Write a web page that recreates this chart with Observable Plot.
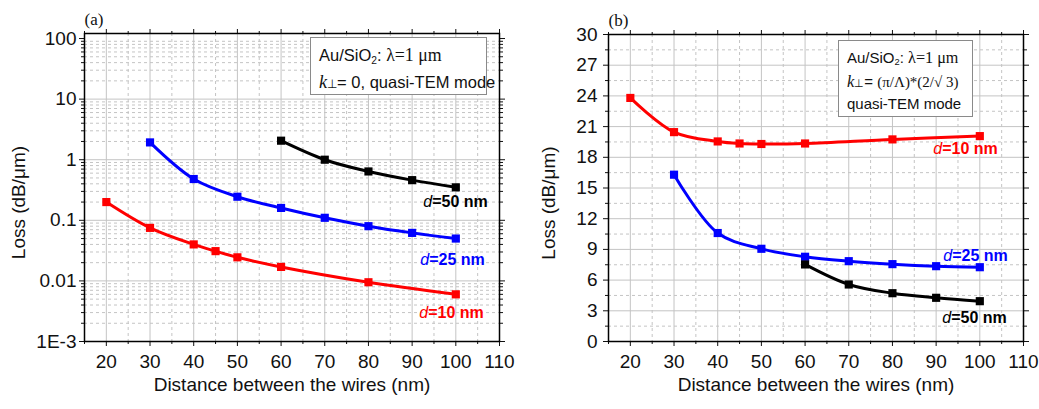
<!DOCTYPE html>
<html><head><meta charset="utf-8">
<script src="https://cdn.jsdelivr.net/npm/d3@7"></script>
<script src="https://cdn.jsdelivr.net/npm/@observablehq/plot@0.6"></script>
<style>
body{margin:0;background:#fff;}
#wrap{position:relative;width:1039px;height:409px;display:flex;font-family:"Liberation Sans",Arial,sans-serif;color:#111;}
#wrap svg{display:block;overflow:visible;}
.legend{position:absolute;background:#fff;border:1px solid #8a8a8a;box-sizing:border-box;white-space:nowrap;}
.serif{font-family:"Liberation Serif","Times New Roman",serif;}
</style></head><body><div id="wrap"><div id="pa"></div><div id="pb"></div></div>
<script>
// ---- data: panel (a), log scale ----
const distA10 = [20, 30, 40, 45, 50, 60, 80, 100];
const lossA10 = [0.2, 0.075, 0.04, 0.031, 0.0245, 0.017, 0.0095, 0.006];
const distA25 = [30, 40, 50, 60, 70, 80, 90, 100];
const lossA25 = [1.93, 0.48, 0.245, 0.16, 0.11, 0.08, 0.062, 0.05];
const distA50 = [60, 70, 80, 90, 100];
const lossA50 = [2.06, 1.0, 0.64, 0.46, 0.35];
// ---- data: panel (b), linear scale ----
const distB10 = [20, 30, 40, 45, 50, 60, 80, 100];
const lossB10 = [23.8, 20.46, 19.55, 19.35, 19.3, 19.35, 19.75, 20.07];
const distB25 = [30, 40, 50, 60, 70, 80, 90, 100];
const lossB25 = [16.3, 10.6, 9.06, 8.28, 7.85, 7.56, 7.36, 7.26];
const distB50 = [60, 70, 80, 90, 100];
const lossB50 = [7.53, 5.57, 4.72, 4.27, 3.94];
// ---- ticks ----
const xMajor = [20, 30, 40, 50, 60, 70, 80, 90, 100, 110];
const xMinor = [15, 25, 35, 45, 55, 65, 75, 85, 95, 105];
const yMajorA = [0.001, 0.01, 0.1, 1, 10, 100];
const yLabelsA = ["1E-3", "0.01", "0.1", "1", "10", "100"];
const yMinorA = [0.002,0.003,0.004,0.005,0.006,0.007,0.008,0.009,
  0.02,0.03,0.04,0.05,0.06,0.07,0.08,0.09,
  0.2,0.3,0.4,0.5,0.6,0.7,0.8,0.9,
  2,3,4,5,6,7,8,9,20,30,40,50,60,70,80,90];
const yMajorB = [0, 3, 6, 9, 12, 15, 18, 21, 24, 27, 30];
const yMinorB = [1.5, 4.5, 7.5, 10.5, 13.5, 16.5, 19.5, 22.5, 25.5, 28.5];
const seriesNames = ["d=10 nm", "d=25 nm", "d=50 nm"];
const seriesColors = ["#ff0000", "#0000ff", "#000000"];
const xTitle = "Distance between the wires (nm)";
const yTitle = "Loss (dB/\u03bcm)";

const rows = (xs, ys) => xs.map((x, i) => ({x, y: ys[i]}));
const GRID = "#c4c4c4";

function panel({width, margins, yScale, yMajor, yFmt, yMinor, series, labelOffsets, tag, yPad, yTitleDx}) {
  const marks = [
    Plot.ruleX(xMajor.filter(v => v < 110), {stroke: GRID, strokeWidth: 1}),
    Plot.ruleX(xMinor.filter(v => v > 15), {stroke: GRID, strokeWidth: 1, strokeDasharray: "3,3"}),
    Plot.ruleY(yMajor.slice(1, -1), {stroke: GRID, strokeWidth: 1}),
    Plot.ruleY(yMinor, {stroke: GRID, strokeWidth: 1, strokeDasharray: "3,3"}),
    Plot.axisX(xMajor, {anchor: "bottom", tickSize: 5, tickPadding: 8, label: null, fontSize: 19}),
    Plot.axisX(xMinor, {anchor: "bottom", tickSize: 3, tickFormat: () => "", label: null}),
    Plot.axisX(xMajor, {anchor: "top", tickSize: 5, tickFormat: () => "", label: null}),
    Plot.axisX(xMinor, {anchor: "top", tickSize: 3, tickFormat: () => "", label: null}),
    Plot.axisY(yMajor, {anchor: "left", tickSize: 5, tickPadding: yPad, tickFormat: yFmt, label: null, fontSize: 19}),
    Plot.axisY(yMinor, {anchor: "left", tickSize: 3, tickFormat: () => "", label: null}),
    Plot.axisY(yMajor, {anchor: "right", tickSize: 5, tickFormat: () => "", label: null}),
    Plot.axisY(yMinor, {anchor: "right", tickSize: 3, tickFormat: () => "", label: null}),
    Plot.frame({stroke: "#000", strokeWidth: 1.5}),
  ];
  series.forEach((s, i) => {
    const data = rows(s[0], s[1]);
    marks.push(Plot.line(data, {x: "x", y: "y", stroke: seriesColors[i], strokeWidth: 3, curve: "catmull-rom"}));
    marks.push(Plot.dot(data, {x: "x", y: "y", symbol: "square", r: 4.6, fill: seriesColors[i], stroke: null}));
    const last = data[data.length - 1];
    marks.push(Plot.text([last], {x: "x", y: "y", text: () => seriesNames[i], textAnchor: "end",
      dx: labelOffsets[i][0], dy: labelOffsets[i][1], fill: seriesColors[i], fontWeight: "bold", fontSize: 16}));
  });
  marks.push(Plot.text([xTitle], {text: d => d, frameAnchor: "bottom", dy: 49, fontSize: 19}));
  marks.push(Plot.text([yTitle], {text: d => d, frameAnchor: "left", textAnchor: "middle", rotate: -90, dx: yTitleDx, dy: 15, fontSize: 19}));
  marks.push(Plot.text([tag], {text: d => d, frameAnchor: "top-left", dy: -21, dx: 0, fontSize: 17, fontFamily: "Liberation Serif"}));
  const svg = Plot.plot({
    width, height: 409, ...margins,
    style: {fontFamily: "'Liberation Sans', Arial, sans-serif", fontSize: "19px", color: "#111", background: "transparent"},
    x: {domain: [15, 110]},
    y: yScale,
    marks
  });
  svg.querySelectorAll("text").forEach(t => {
    const s = t.textContent;
    if (s.startsWith("d=")) {
      t.textContent = "";
      const a = document.createElementNS("http://www.w3.org/2000/svg", "tspan");
      a.setAttribute("font-style", "italic"); a.setAttribute("font-weight", "normal"); a.textContent = "d";
      const b = document.createElementNS("http://www.w3.org/2000/svg", "tspan");
      b.textContent = s.slice(1);
      t.append(a, b);
    }
  });
  return svg;
}

document.getElementById("pa").append(panel({
  width: 520,
  margins: {marginLeft: 84, marginRight: 21, marginTop: 33, marginBottom: 68},
  yScale: {type: "log", domain: [0.001, 121]},
  yMajor: yMajorA, yFmt: d => yLabelsA[yMajorA.indexOf(d)], yMinor: yMinorA,
  series: [[distA10, lossA10], [distA25, lossA25], [distA50, lossA50]],
  labelOffsets: [[28, 19], [29, 21], [32, 15]],
  tag: "(a)", yPad: 3, yTitleDx: -66
}));
document.getElementById("pb").append(panel({
  width: 519,
  margins: {marginLeft: 88, marginRight: 16, marginTop: 34, marginBottom: 68},
  yScale: {type: "linear", domain: [0, 30]},
  yMajor: yMajorB, yFmt: d => String(d), yMinor: yMinorB,
  series: [[distB10, lossB10], [distB25, lossB25], [distB50, lossB50]],
  labelOffsets: [[18, 13], [28, -11], [27, 17]],
  tag: "(b)", yPad: 6, yTitleDx: -60
}));

// legend boxes
const wrap = document.getElementById("wrap");
function box(left, top, w, h, fs, lines) {
  const d = document.createElement("div");
  d.className = "legend";
  Object.assign(d.style, {left: left + "px", top: top + "px", width: w + "px", height: h + "px", fontSize: fs + "px", padding: "4px 0 0 8px"});
  d.innerHTML = lines.map(([lh, html]) => `<div style="height:${lh}px;line-height:${lh}px">${html}</div>`).join("");
  wrap.append(d);
}
const line1 = `Au/SiO<sub style="font-size:0.62em;vertical-align:-0.25em">2</sub>: <span class="serif" style="font-size:1.08em">\u03bb=1 \u03bcm</span>`;
const kPerp = `<span class="serif" style="font-style:italic;font-size:1.1em">k</span><span class="serif" style="font-size:0.75em">\u22a5</span>`;
box(310, 37, 177, 58, 16.5, [[27, line1], [27, kPerp + "= 0, quasi-TEM mode"]]);
box(838, 40, 135, 77, 15, [[26, line1], [22, kPerp + `= <span class="serif">(\u03c0/\u039b)*(2/\u221a 3)</span>`], [22, "quasi-TEM mode"]]);
</script></body></html>
